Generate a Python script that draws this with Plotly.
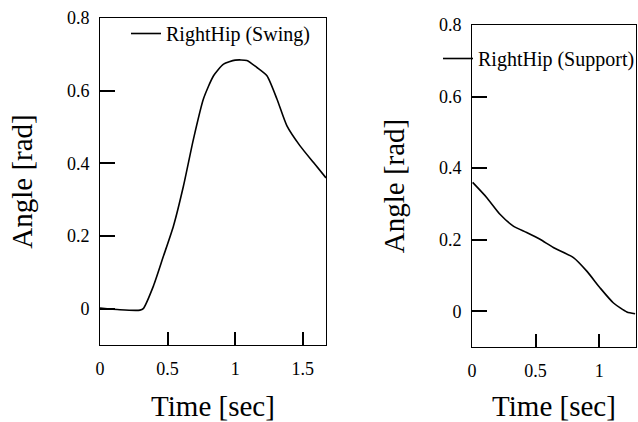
import plotly.graph_objects as go

# Left panel: RightHip (Swing)
swing_t = [0.0, 0.148, 0.296, 0.32, 0.395, 0.469, 0.543, 0.617, 0.691, 0.765, 0.84,
           0.914, 1.0, 1.086, 1.16, 1.235, 1.309, 1.383, 1.48, 1.58, 1.672]
swing_angle = [0.002, -0.003, -0.004, 0.0, 0.062, 0.144, 0.227, 0.337, 0.466, 0.577, 0.641,
               0.673, 0.684, 0.683, 0.664, 0.641, 0.577, 0.503, 0.448, 0.402, 0.36]

# Right panel: RightHip (Support)
support_t = [0.005, 0.115, 0.22, 0.325, 0.43, 0.535, 0.64, 0.798, 0.903, 1.008, 1.113, 1.218, 1.283]
support_angle = [0.36, 0.318, 0.271, 0.238, 0.22, 0.201, 0.178, 0.15, 0.112, 0.065, 0.023, -0.002, -0.007]

x_tick_step = 0.5
y_tick_step = 0.2

FONT = "Liberation Serif"
W, H = 638, 422
ML, MR, MT, MB = 100, 2, 18, 75
PW, PH = W - ML - MR, H - MT - MB


def xd(px0, px1):
    return [(px0 - ML) / PW, (px1 - ML) / PW]


def yd(py_bottom, py_top):
    return [(H - MB - py_bottom) / PH, (H - MB - py_top) / PH]


fig = go.Figure()
fig.add_trace(go.Scatter(x=swing_t, y=swing_angle, mode="lines", name="RightHip (Swing)",
                         line=dict(color="black", width=1.6, shape="spline", smoothing=0.6),
                         xaxis="x", yaxis="y", legend="legend", showlegend=True))
fig.add_trace(go.Scatter(x=support_t, y=support_angle, mode="lines", name="RightHip (Support)",
                         line=dict(color="black", width=1.6, shape="spline", smoothing=0.6),
                         xaxis="x2", yaxis="y2", legend="legend2", showlegend=True))

TITLE_SIZE = 29


def axis(**kw):
    base = dict(showgrid=False, zeroline=False, showline=True, mirror=True,
                linecolor="black", linewidth=1,
                ticks="inside", tickcolor="black", tickwidth=2,
                tickfont=dict(family=FONT, size=18, color="black"))
    base.update(kw)
    return base


fig.update_layout(
    template="none",
    width=W, height=H,
    margin=dict(l=ML, r=MR, t=MT, b=MB, autoexpand=False),
    paper_bgcolor="white", plot_bgcolor="white",
    font=dict(family=FONT, color="black"),
    showlegend=True,
    xaxis=axis(domain=xd(100, 326), range=[0, 1.672], tick0=0, dtick=x_tick_step,
               ticklen=13, ticklabelstandoff=7, anchor="y",
               title=dict(text="Time [sec]", font=dict(family=FONT, size=TITLE_SIZE))),
    yaxis=axis(domain=yd(345, 18), range=[-0.1, 0.8], tick0=0, dtick=y_tick_step,
               ticklen=15, ticklabelstandoff=6, anchor="x",
               title=dict(text="Angle [rad]", font=dict(family=FONT, size=TITLE_SIZE))),
    xaxis2=axis(domain=xd(472, 636), range=[0, 1.29], tick0=0, dtick=x_tick_step,
                ticklen=13, ticklabelstandoff=7, anchor="y2",
                title=dict(text="Time [sec]", font=dict(family=FONT, size=TITLE_SIZE))),
    yaxis2=axis(domain=yd(347, 25), range=[-0.1, 0.8], tick0=0, dtick=y_tick_step,
                ticklen=15, ticklabelstandoff=6, anchor="x2",
                title=dict(text="Angle [rad]", font=dict(family=FONT, size=TITLE_SIZE))),
    legend=dict(x=(126 - ML) / PW, y=(H - MB - 14) / PH, xanchor="left", yanchor="top",
                bgcolor="rgba(0,0,0,0)", borderwidth=0,
                font=dict(family=FONT, size=20, color="black")),
    legend2=dict(x=(438 - ML) / PW, y=(H - MB - 39) / PH, xanchor="left", yanchor="top",
                 bgcolor="rgba(0,0,0,0)", borderwidth=0,
                 font=dict(family=FONT, size=20, color="black")),
)

fig.write_html("out.html")
